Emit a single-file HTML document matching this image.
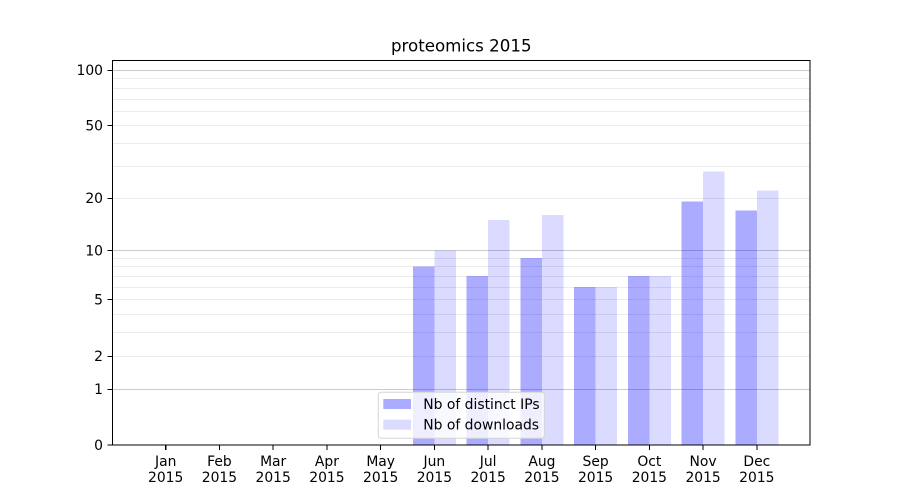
<!DOCTYPE html>
<html>
<head>
<meta charset="utf-8">
<style>
  html, body { margin: 0; padding: 0; background: #ffffff; }
  svg { display: block; }
  text { font-family: "DejaVu Sans", "Liberation Sans", sans-serif; fill: #000; }
</style>
</head>
<body>
<svg width="900" height="500" viewBox="0 0 900 500" xmlns="http://www.w3.org/2000/svg">
  <rect x="0" y="0" width="900" height="500" fill="#ffffff"/>

  <!-- minor gridlines -->
  <g stroke="#ebebeb" stroke-width="1" shape-rendering="crispEdges">
    <line x1="113" x2="810" y1="356.5" y2="356.5"/>
    <line x1="113" x2="810" y1="332.5" y2="332.5"/>
    <line x1="113" x2="810" y1="314.5" y2="314.5"/>
    <line x1="113" x2="810" y1="299.5" y2="299.5"/>
    <line x1="113" x2="810" y1="287.5" y2="287.5"/>
    <line x1="113" x2="810" y1="276.5" y2="276.5"/>
    <line x1="113" x2="810" y1="266.5" y2="266.5"/>
    <line x1="113" x2="810" y1="258.5" y2="258.5"/>
    <line x1="113" x2="810" y1="198.5" y2="198.5"/>
    <line x1="113" x2="810" y1="166.5" y2="166.5"/>
    <line x1="113" x2="810" y1="143.5" y2="143.5"/>
    <line x1="113" x2="810" y1="125.5" y2="125.5"/>
    <line x1="113" x2="810" y1="111.5" y2="111.5"/>
    <line x1="113" x2="810" y1="99.5" y2="99.5"/>
    <line x1="113" x2="810" y1="88.5" y2="88.5"/>
    <line x1="113" x2="810" y1="78.5" y2="78.5"/>
  </g>
  <!-- major gridlines -->
  <g stroke="#cbcbcb" stroke-width="1" shape-rendering="crispEdges">
    <line x1="113" x2="810" y1="389.5" y2="389.5"/>
    <line x1="113" x2="810" y1="250.5" y2="250.5"/>
    <line x1="113" x2="810" y1="70.5" y2="70.5"/>
  </g>

  <!-- bars: distinct IPs -->
  <g fill="#0000ff" fill-opacity="0.33" shape-rendering="crispEdges">
    <rect x="412.9" y="266.56" width="21.5" height="178.44"/>
    <rect x="466.64" y="276.12" width="21.5" height="168.88"/>
    <rect x="520.38" y="258.0" width="21.5" height="187.0"/>
    <rect x="574.12" y="286.97" width="21.5" height="158.03"/>
    <rect x="627.86" y="276.12" width="21.5" height="168.88"/>
    <rect x="681.6" y="201.71" width="21.5" height="243.29"/>
    <rect x="735.34" y="210.26" width="21.5" height="234.74"/>
  </g>
  <!-- bars: downloads -->
  <g fill="#0000ff" fill-opacity="0.14" shape-rendering="crispEdges">
    <rect x="434.4" y="250.26" width="21.5" height="194.74"/>
    <rect x="488.14" y="219.83" width="21.5" height="225.17"/>
    <rect x="541.88" y="214.91" width="21.5" height="230.09"/>
    <rect x="595.62" y="286.97" width="21.5" height="158.03"/>
    <rect x="649.36" y="276.12" width="21.5" height="168.88"/>
    <rect x="703.1" y="171.53" width="21.5" height="273.47"/>
    <rect x="756.84" y="190.36" width="21.5" height="254.64"/>
  </g>

  <!-- spines -->
  <rect x="112.5" y="60.5" width="697.5" height="384.5" fill="none" stroke="#000" stroke-width="1.1" shape-rendering="crispEdges"/>

  <!-- y ticks -->
  <g stroke="#000" stroke-width="1.1" shape-rendering="crispEdges">
    <line x1="107.6" x2="112.5" y1="445" y2="445"/>
    <line x1="107.6" x2="112.5" y1="389.5" y2="389.5"/>
    <line x1="107.6" x2="112.5" y1="356.5" y2="356.5"/>
    <line x1="107.6" x2="112.5" y1="299.5" y2="299.5"/>
    <line x1="107.6" x2="112.5" y1="250.5" y2="250.5"/>
    <line x1="107.6" x2="112.5" y1="198.5" y2="198.5"/>
    <line x1="107.6" x2="112.5" y1="125.5" y2="125.5"/>
    <line x1="107.6" x2="112.5" y1="70.5" y2="70.5"/>
  </g>
  <g font-size="13.89" text-anchor="end">
    <text x="103" y="450">0</text>
    <text x="103" y="394.2">1</text>
    <text x="103" y="361.2">2</text>
    <text x="103" y="304.4">5</text>
    <text x="103" y="255.3">10</text>
    <text x="103" y="203.2">20</text>
    <text x="103" y="130.4">50</text>
    <text x="103" y="75.2">100</text>
  </g>

  <!-- x ticks -->
  <g stroke="#000" stroke-width="1.1" shape-rendering="crispEdges">
    <line x1="165.7" x2="165.7" y1="445" y2="450"/>
    <line x1="219.44" x2="219.44" y1="445" y2="450"/>
    <line x1="273.18" x2="273.18" y1="445" y2="450"/>
    <line x1="326.92" x2="326.92" y1="445" y2="450"/>
    <line x1="380.66" x2="380.66" y1="445" y2="450"/>
    <line x1="434.4" x2="434.4" y1="445" y2="450"/>
    <line x1="488.14" x2="488.14" y1="445" y2="450"/>
    <line x1="541.88" x2="541.88" y1="445" y2="450"/>
    <line x1="595.62" x2="595.62" y1="445" y2="450"/>
    <line x1="649.36" x2="649.36" y1="445" y2="450"/>
    <line x1="703.1" x2="703.1" y1="445" y2="450"/>
    <line x1="756.84" x2="756.84" y1="445" y2="450"/>
  </g>
  <g font-size="13.89" text-anchor="middle">
    <text x="165.7" y="466">Jan</text><text x="165.7" y="482">2015</text>
    <text x="219.44" y="466">Feb</text><text x="219.44" y="482">2015</text>
    <text x="273.18" y="466">Mar</text><text x="273.18" y="482">2015</text>
    <text x="326.92" y="466">Apr</text><text x="326.92" y="482">2015</text>
    <text x="380.66" y="466">May</text><text x="380.66" y="482">2015</text>
    <text x="434.4" y="466">Jun</text><text x="434.4" y="482">2015</text>
    <text x="488.14" y="466">Jul</text><text x="488.14" y="482">2015</text>
    <text x="541.88" y="466">Aug</text><text x="541.88" y="482">2015</text>
    <text x="595.62" y="466">Sep</text><text x="595.62" y="482">2015</text>
    <text x="649.36" y="466">Oct</text><text x="649.36" y="482">2015</text>
    <text x="703.1" y="466">Nov</text><text x="703.1" y="482">2015</text>
    <text x="756.84" y="466">Dec</text><text x="756.84" y="482">2015</text>
  </g>

  <!-- title -->
  <text x="461.25" y="51.7" font-size="16.67" text-anchor="middle">proteomics 2015</text>

  <!-- legend -->
  <rect x="378.3" y="392.3" width="166" height="46" rx="2.8" ry="2.8" fill="#ffffff" fill-opacity="0.8" stroke="#d6d6d6" stroke-width="1"/>
  <rect x="383.3" y="399" width="27.7" height="10" fill="#0000ff" fill-opacity="0.33"/>
  <rect x="383.3" y="419.7" width="27.7" height="10" fill="#0000ff" fill-opacity="0.14"/>
  <text x="423.3" y="409" font-size="13.89">Nb of distinct IPs</text>
  <text x="423.3" y="429.5" font-size="13.89">Nb of downloads</text>
</svg>
</body>
</html>
